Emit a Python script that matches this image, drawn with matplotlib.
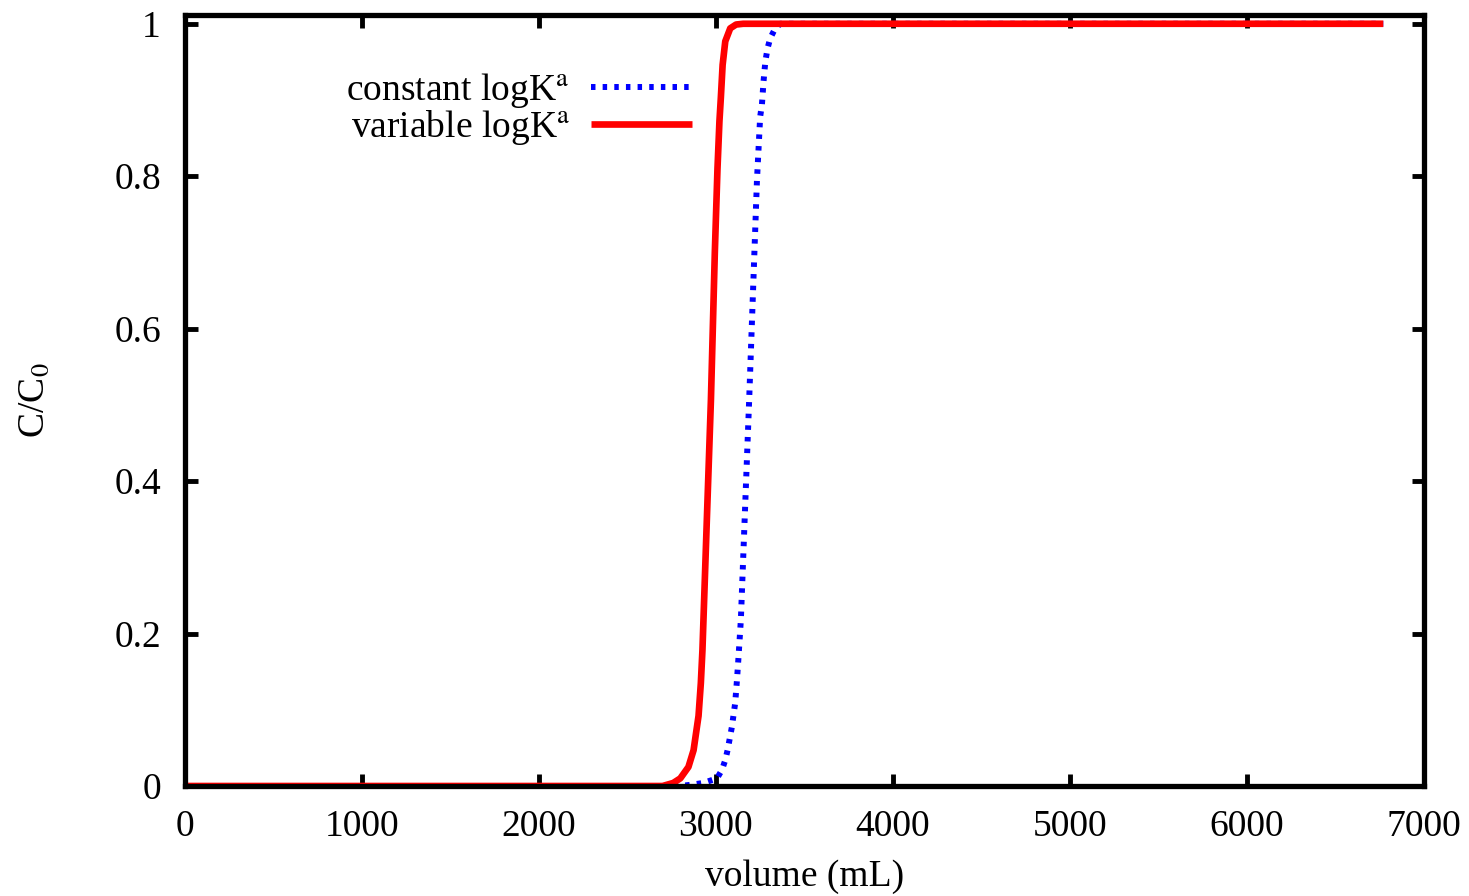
import matplotlib
matplotlib.use("Agg")
import matplotlib.pyplot as plt

plt.rcParams['font.family'] = ['Liberation Serif', 'DejaVu Serif']
plt.rcParams['mathtext.fontset'] = 'stix'

# constant logK^a (blue dotted)
vol_const = [0, 2800, 2873, 2930, 3007, 3035, 3054, 3067, 3091, 3110, 3120, 3129,
             3142, 3189, 3233, 3251, 3261, 3270, 3280, 3293, 3308, 3336, 3365, 6770]
c_const = [0, 0, 0.002, 0.004, 0.010, 0.021, 0.034, 0.047, 0.077, 0.109, 0.139, 0.170,
           0.218, 0.507, 0.795, 0.878, 0.894, 0.924, 0.950, 0.968, 0.981, 0.994, 1.0, 1.0]

# variable logK^a (red solid)
vol_var = [0, 2700, 2760, 2800, 2846, 2875, 2903, 2916, 2925, 2950, 2973, 2995, 3010, 3021,
           3029, 3039, 3054, 3082, 3115, 3155, 6770]
c_var = [0, 0, 0.004, 0.010, 0.025, 0.047, 0.092, 0.135, 0.178, 0.350, 0.507, 0.700, 0.810,
         0.872, 0.903, 0.946, 0.977, 0.994, 0.999, 1.0, 1.0]

x_ticks = [0, 1000, 2000, 3000, 4000, 5000, 6000, 7000]
y_ticks = [0, 0.2, 0.4, 0.6, 0.8, 1]
y_ticklabels = ['0', '0.2', '0.4', '0.6', '0.8', '1']

W, H = 1469, 896
fig = plt.figure(figsize=(W / 100, H / 100), dpi=100)
ax = fig.add_axes([184.5 / W, 1 - 786 / H, (1424 - 184.5) / W, (786 - 15) / H])

ax.plot(vol_const, c_const, color='#0000ff', lw=4.3, linestyle=(0, (0.75, 1.2)),
        label=r'constant logK$^{\mathrm{a}}$')
ax.plot(vol_var, c_var, color='#ff0000', lw=4.8, solid_capstyle='butt',
        label=r'variable logK$^{\mathrm{a}}$')

ax.set_xlim(0, 7000)
ax.set_ylim(0, 1.0115)
ax.set_xticks(x_ticks)
ax.set_xticklabels([str(v) for v in x_ticks])
ax.set_yticks(y_ticks)
ax.set_yticklabels(y_ticklabels)
ax.tick_params(direction='in', length=9, width=3.5, labelsize=27, pad=17,
               top=True, right=True)
for s in ax.spines.values():
    s.set_linewidth(3.8)

ax.set_xlabel('volume (mL)', fontsize=27, labelpad=11)
ax.set_ylabel(r'C/C$_0$', fontsize=27, labelpad=45)

leg = ax.legend(loc='upper right', bbox_to_anchor=(692 / W, 1 - 71 / H),
                bbox_transform=fig.transFigure, frameon=False, markerfirst=False,
                fontsize=27, handlelength=2.7, handletextpad=0.55, labelspacing=-0.05,
                borderpad=0, borderaxespad=0)

fig.savefig('out.png', dpi=100)
